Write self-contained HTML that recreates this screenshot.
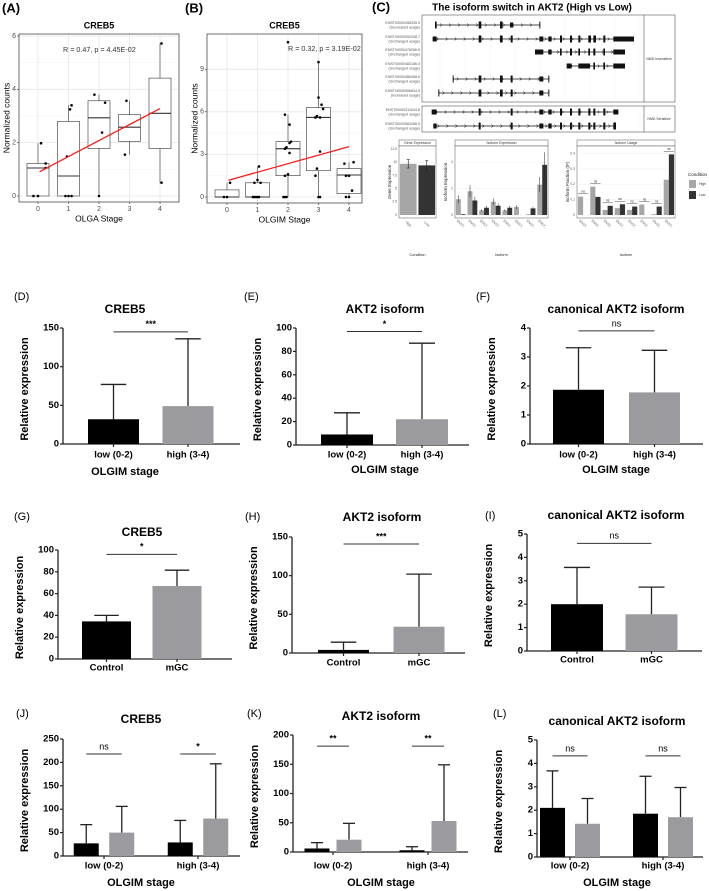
<!DOCTYPE html>
<html><head><meta charset="utf-8"><style>
html,body{margin:0;padding:0;background:#fff;}
svg{display:block;font-family:"Liberation Sans",Arial,sans-serif;}
</style></head><body>
<svg id="fig" width="709" height="891" viewBox="0 0 709 891" xmlns="http://www.w3.org/2000/svg"></svg>
<script>
// ---------- DATA ----------
const aCats=["0","1","2","3","4"];
const aQ1=[0,0,1.78,2.05,1.78];
const aMed=[1.05,0.75,2.93,2.58,3.1];
const aQ3=[1.22,2.8,3.57,3.05,4.42];
const aLo=[0,0,0,1.55,0.5];
const aHi=[1.98,3.4,3.8,3.57,5.72];
const aPtCat=[0,0,0,0,0,1,1,1,1,1,1,2,2,2,2,3,3,4,4];
const aPtJit=[-0.15,0,0.25,0.1,0.25,-0.1,0,0.1,-0.05,0.05,0.1,0,0.1,0.2,-0.15,-0.15,-0.1,0.05,0.05];
const aPtVal=[0,0,1.22,1.98,1.05,0,0,0,1.48,3.25,3.4,0,2.38,3.5,3.8,1.55,3.57,0.5,5.72];
const aFit=[0.88,0.6];
const aTicks=[0,2,4,6];
const bCats=["0","1","2","3","4"];
const bQ1=[0,0,1.5,1.85,0.25];
const bMed=[0,0,3.4,5.6,1.55];
const bQ3=[0.5,1.0,3.9,6.3,2.0];
const bLo=[0,0,0,0,0];
const bHi=[1.0,2.15,5.8,9.5,2.45];
const bPtCat=[0,0,0,1,1,1,1,1,1,1,1,1,2,2,2,2,2,2,2,2,2,2,2,2,2,3,3,3,3,3,3,3,3,3,3,3,3,4,4,4,4,4,4,4];
const bPtJit=[-0.1,0,0.1,-0.15,-0.1,-0.05,0,0.05,0,0.1,-0.1,0.05,-0.15,-0.1,-0.05,-0.1,0,0.05,-0.05,-0.1,0.05,0.1,-0.1,0.05,0.0,0,0.05,-0.1,-0.05,0.05,-0.1,-0.05,0.05,0.15,0.1,0,0,-0.1,0,0.1,-0.1,0,-0.15,0.15];
const bPtVal=[0,0,1.0,0,0,0,0,0,1.2,1.0,1.0,2.15,0,0,0,1.5,1.6,3.1,3.5,3.4,3.8,3.9,5.8,5.1,10.9,0,0,1.5,2.0,3.2,5.6,5.7,5.6,6.2,6.5,7.0,9.5,0,0,0.45,1.5,1.5,2.35,2.45];
const bFit=[1.15,0.6];
const bTicks=[0,3,6,9];
const cGeneCats=["High","Low"];
const cGeneVals=[9.7,9.4];
const cGeneErr=[0.8,0.9];
const cGeneTicks=[0,2.5,5,7.5,10,12.5];
const cIsoHigh=[1.2,1.8,0.35,1.0,0.35,0.6,0.05,2.3];
const cIsoLow=[0.05,1.1,0.55,0.7,0.55,0,0.5,3.8];
const cIsoTicks=[0,2,4];
const cUseHigh=[0.12,0.185,0.033,0.045,0.033,0.068,0.005,0.23];
const cUseLow=[0,0.118,0.06,0.07,0.055,0,0.055,0.395];
const cUseTicks=[0,0.1,0.2,0.3,0.4];
const dCats=["low (0-2)","high (3-4)"]; const dVals=[32,49]; const dErr=[77,136]; const dTicks=[0,50,100,150];
const eCats=["low (0-2)","high (3-4)"]; const eVals=[9,22]; const eErr=[27.5,87]; const eTicks=[0,20,40,60,80,100];
const fCats=["low (0-2)","high (3-4)"]; const fVals=[1.87,1.78]; const fErr=[3.32,3.23]; const fTicks=[0,1,2,3,4];
const gCats=["Control","mGC"]; const gVals=[34.5,67]; const gErr=[40,81.5]; const gTicks=[0,20,40,60,80,100];
const hCats=["Control","mGC"]; const hVals=[4,34]; const hErr=[14,102]; const hTicks=[0,50,100,150];
const iCats=["Control","mGC"]; const iVals=[2.0,1.57]; const iErr=[3.57,2.73]; const iTicks=[0,1,2,3,4,5];
const jCats=["low (0-2)","high (3-4)"]; const jBlack=[27,29]; const jBlackErr=[67,76]; const jGray=[50,80]; const jGrayErr=[106,197]; const jTicks=[0,50,100,150,200,250];
const kCats=["low (0-2)","high (3-4)"]; const kBlack=[6,3]; const kBlackErr=[16,9]; const kGray=[21,53]; const kGrayErr=[49,149]; const kTicks=[0,50,100,150,200];
const lCats=["low (0-2)","high (3-4)"]; const lBlack=[2.1,1.85]; const lBlackErr=[3.68,3.45]; const lGray=[1.42,1.7]; const lGrayErr=[2.5,2.97]; const lTicks=[0,1,2,3,4,5];

// ---------- HELPERS ----------
const NS="http://www.w3.org/2000/svg";
const svg=document.getElementById('fig');
function mk(tag,attrs,parent,text){const e=document.createElementNS(NS,tag);for(const k in attrs)e.setAttribute(k,attrs[k]);if(text!==undefined)e.textContent=text;(parent||svg).appendChild(e);return e;}
function grp(name,parent){const g=mk('g',{},parent);return g;}
function txt(p,x,y,s,size,opts){opts=opts||{};const t=mk('text',{x:x,y:y,'font-size':size,fill:opts.fill||'#000','text-anchor':opts.anchor||'start','font-weight':opts.bold?'bold':'normal','dominant-baseline':'middle'},p,s);if(opts.rot)t.setAttribute('transform','rotate('+opts.rot+' '+x+' '+y+')');return t;}
function line(p,x1,y1,x2,y2,c,w){return mk('line',{x1:x1,y1:y1,x2:x2,y2:y2,stroke:c,'stroke-width':w},p);}

// ---------- BOXPLOT PANELS ----------
function boxPanel(cfg){
  const g=grp(cfg.name);
  const y=v=>cfg.y0-v*cfg.ky; const x=i=>cfg.cx0+i*cfg.step;
  const l=txt(g,cfg.lx,cfg.ly,cfg.letter,13,{bold:true}); 
  const t=txt(g,(cfg.px0+cfg.px1)/2,cfg.py0-8,'CREB5',9,{bold:true,anchor:'middle'}); 
  const ticks=cfg.ticks;
  for(let k=0;k<ticks.length;k++){
    line(g,cfg.px0,y(ticks[k]),cfg.px1,y(ticks[k]),'#e6e6e6',0.8);
    if(k<ticks.length-1){const m=(ticks[k]+ticks[k+1])/2;line(g,cfg.px0,y(m),cfg.px1,y(m),'#f2f2f2',0.5);}
    const tl=txt(g,cfg.px0-3,y(ticks[k]),String(ticks[k]),7,{anchor:'end',fill:'#4d4d4d'});
    
    line(g,cfg.px0-2,y(ticks[k]),cfg.px0,y(ticks[k]),'#333',0.6);
  }
  for(let i=0;i<cfg.cats.length;i++){
    line(g,x(i),cfg.py0,x(i),cfg.py1,'#e6e6e6',0.8);
    const xl=txt(g,x(i),cfg.py1+7,cfg.cats[i],7,{anchor:'middle',fill:'#4d4d4d'});
    
    line(g,x(i),cfg.py1,x(i),cfg.py1+2,'#333',0.6);
  }
  for(let i=0;i<cfg.cats.length;i++){
    const bx=grp('box-'+i,g);
    line(bx,x(i),y(cfg.q3[i]),x(i),y(cfg.hi[i]),'#333',0.6);
    line(bx,x(i),y(cfg.q1[i]),x(i),y(cfg.lo[i]),'#333',0.6);
    mk('rect',{x:x(i)-cfg.bw/2,y:y(cfg.q3[i]),width:cfg.bw,height:Math.max(0.5,y(cfg.q1[i])-y(cfg.q3[i])),fill:'#fff',stroke:'#333','stroke-width':0.6},bx);
    line(bx,x(i)-cfg.bw/2,y(cfg.med[i]),x(i)+cfg.bw/2,y(cfg.med[i]),'#333',1.1);
  }
  for(let k=0;k<cfg.ptV.length;k++){
    const c=mk('circle',{cx:x(cfg.ptC[k]+cfg.ptJ[k]),cy:y(cfg.ptV[k]),r:1.3,fill:'#000'},g);
    
  }
  const fx0=0.05, fx1=4;
  const fl=line(g,x(fx0),y(cfg.fit[0]+cfg.fit[1]*fx0),x(fx1),y(cfg.fit[0]+cfg.fit[1]*fx1),'#ff1a1a',1.3);
  
  mk('rect',{x:cfg.px0,y:cfg.py0,width:cfg.px1-cfg.px0,height:cfg.py1-cfg.py0,fill:'none',stroke:'#333','stroke-width':0.7},g);
  const r=txt(g,cfg.rx,cfg.ry,cfg.rtext,7.2,{fill:'#333'});
  const xt=txt(g,(cfg.px0+cfg.px1)/2,cfg.py1+17,cfg.xtitle,8.5,{anchor:'middle'});
  const yt=txt(g,cfg.ytx,(cfg.py0+cfg.py1)/2,'Normalized counts',8.5,{anchor:'middle',rot:-90});
}
boxPanel({name:'panel-a',letter:'(A)',lx:2,ly:9,px0:19,px1:179,py0:34,py1:202,y0:196,ky:26.67,cx0:38,step:30.5,bw:22,
  cats:aCats,q1:aQ1,med:aMed,q3:aQ3,lo:aLo,hi:aHi,ptC:aPtCat,ptJ:aPtJit,ptV:aPtVal,fit:aFit,ticks:aTicks,
  rx:63,ry:50,rtext:'R = 0.47, p = 4.45E-02',xtitle:'OLGA Stage',ytx:7});
boxPanel({name:'panel-b',letter:'(B)',lx:185,ly:9,px0:207,px1:362,py0:34,py1:203,y0:197,ky:14.2,cx0:227,step:30.5,bw:24,
  cats:bCats,q1:bQ1,med:bMed,q3:bQ3,lo:bLo,hi:bHi,ptC:bPtCat,ptJ:bPtJit,ptV:bPtVal,fit:bFit,ticks:bTicks,
  rx:288,ry:49,rtext:'R = 0.32, p = 3.19E-02',xtitle:'OLGIM Stage',ytx:195});

// ---------- PANEL C ----------
(function(){
  const g=grp('panel-c');
  const l=txt(g,372,8,'(C)',13,{bold:true});
  const t=txt(g,532,8,'The isoform switch in AKT2 (High vs Low)',10,{bold:true,anchor:'middle'});
  const Z=v=>360+v/3;
  mk('rect',{x:422,y:15,width:253,height:87,fill:'#fff',stroke:'#555','stroke-width':0.6},g);
  line(g,644,15,644,102,'#555',0.6);
  mk('rect',{x:422,y:106,width:253,height:26,fill:'#fff',stroke:'#555','stroke-width':0.6},g);
  line(g,644,106,644,132,'#555',0.6);
  for(let gx=440;gx<644;gx+=25){line(g,gx,15,gx,102,'#f0f0f0',0.5);line(g,gx,106,gx,132,'#f0f0f0',0.5);}
  const f1=txt(g,659,59,'NMD Insensitive',3.5,{anchor:'middle',fill:'#333'});
  const f2=txt(g,659,119,'NMD Sensitive',3.5,{anchor:'middle',fill:'#333'});
  const rows=[
    {y:25,id:'ENST00000358335.9',u:'(Decreased usage)',s:228,e:541,ex:[[225,5],[356,8],[420,8],[450,10],[538,3]]},
    {y:39,id:'ENST00000392038.7',u:'(Unchanged usage)',s:218,e:822,ex:[[218,12],[356,8],[420,8],[452,6],[538,12],[565,10],[600,6],[630,6],[655,6],[685,8],[700,8],[730,6],[760,62]]},
    {y:52,id:'ENST00000476266.5',u:'(Unchanged usage)',s:525,e:795,ex:[[525,25],[565,10],[600,5],[630,6],[655,5],[685,5],[700,6],[730,5],[760,35]]},
    {y:66,id:'ENST00000483186.5',u:'(Unchanged usage)',s:620,e:795,ex:[[620,15],[655,35],[700,5],[730,5],[760,35]]},
    {y:79,id:'ENST00000486368.6',u:'(Unchanged usage)',s:278,e:568,ex:[[278,3],[356,8],[420,8],[452,6],[538,12],[565,3]]},
    {y:93,id:'ENST00000596634.5',u:'(Increased usage)',s:235,e:565,ex:[[235,3],[356,8],[420,8],[452,6],[538,12],[565,3]]},
    {y:112,id:'ENST00000311644.8',u:'(Unchanged usage)',s:215,e:775,ex:[[215,15],[356,6],[452,6],[538,12],[565,10],[600,6],[630,6],[655,6],[685,6],[700,6],[730,6],[760,15]]},
    {y:126,id:'ENST00000584288.5',u:'(Unchanged usage)',s:220,e:768,ex:[[220,10],[356,6],[452,6],[538,12],[565,10],[600,6],[630,6],[655,6],[685,6],[700,6],[730,6],[760,8]]}
  ];
  rows.forEach(r=>{
    const rg=grp('transcript-row',g);
    txt(rg,420,r.y-2,r.id,3.6,{anchor:'end',fill:'#555'});
    txt(rg,420,r.y+2.5,r.u,3.6,{anchor:'end',fill:'#555'});
    line(rg,Z(r.s),r.y,Z(r.e),r.y,'#111',0.7);
    for(let cx=Z(r.s)+5;cx<Z(r.e)-3;cx+=9){mk('path',{d:'M'+(cx-1)+' '+(r.y-1.5)+' L'+(cx+1)+' '+r.y+' L'+(cx-1)+' '+(r.y+1.5),fill:'none',stroke:'#111','stroke-width':0.5},rg);}
    r.ex.forEach(e=>{const wide=e[1]>9;mk('rect',{x:Z(e[0]),y:r.y-(wide?2.5:3.5),width:Math.max(1,e[1]/3),height:wide?5:7,fill:'#111'},rg);});
  });
  function frame(mg,x0,x1,title,ticks,max,ytitle,xtitle){
    const py0=146,py1=218;
    mk('rect',{x:x0,y:140,width:x1-x0,height:6,fill:'#fff',stroke:'#555','stroke-width':0.5},mg);
    txt(mg,(x0+x1)/2,143,title,3.5,{anchor:'middle',fill:'#333'});
    mk('rect',{x:x0,y:py0,width:x1-x0,height:py1-py0,fill:'#fff',stroke:'#555','stroke-width':0.5},mg);
    const y=v=>py1-3-v/max*(py1-py0-6);
    ticks.forEach(tk=>{line(mg,x0,y(tk),x1,y(tk),'#ececec',0.5);txt(mg,x0-2,y(tk),String(tk),3.3,{anchor:'end',fill:'#555'});});
    txt(mg,x0-9,(py0+py1)/2,ytitle,4.5,{anchor:'middle',rot:-90,fill:'#222'});
    txt(mg,(x0+x1)/2,255,xtitle,3.8,{anchor:'middle',fill:'#222'});
    return y;
  }
  // gene expression: two single bars
  (function(){
    const mg=grp('gene-expression-chart',g);
    const x0=399,x1=436;
    const y=frame(mg,x0,x1,'Gene Expression',cGeneTicks,12.5,'Gene Expression','Condition');
    const step=(x1-x0)/2, cols=['#a6a6a6','#333'];
    for(let i=0;i<2;i++){
      const cx=x0+step*(i+0.5), bw=step*0.9;
      const b=mk('rect',{x:cx-bw/2,y:y(cGeneVals[i]),width:bw,height:y(0)-y(cGeneVals[i]),fill:cols[i]},mg);
      
      line(mg,cx,y(cGeneVals[i]+cGeneErr[i]),cx,y(cGeneVals[i]-cGeneErr[i]),'#222',0.6);
      line(mg,cx-1.5,y(cGeneVals[i]+cGeneErr[i]),cx+1.5,y(cGeneVals[i]+cGeneErr[i]),'#222',0.6);
      line(mg,cx-1.5,y(cGeneVals[i]-cGeneErr[i]),cx+1.5,y(cGeneVals[i]-cGeneErr[i]),'#222',0.6);
      txt(mg,cx,224,cGeneCats[i],3.3,{anchor:'middle',fill:'#555',rot:45});
    }
  })();
  function mini(name,x0,x1,title,ticks,max,hi,lo,err,ytitle,xtitle,ns){
    const mg=grp(name,g);
    const y=frame(mg,x0,x1,title,ticks,max,ytitle,xtitle);
    const n=hi.length; const step=(x1-x0)/n;
    for(let i=0;i<n;i++){
      const cx=x0+step*(i+0.5); const bw=step*0.42;
      const hb=mk('rect',{x:cx-bw,y:y(hi[i]),width:bw,height:y(0)-y(hi[i]),fill:'#a6a6a6'},mg);
      
      const lb=mk('rect',{x:cx,y:y(lo[i]),width:bw,height:y(0)-y(lo[i]),fill:'#333'},mg);
      
      if(err){line(mg,cx-bw/2,y(hi[i]*(1+err)),cx-bw/2,y(hi[i]*(1-err)),'#222',0.5);line(mg,cx+bw/2,y(lo[i]*(1+err)),cx+bw/2,y(lo[i]*(1-err)),'#222',0.5);}
      if(ns){const top=Math.max(hi[i],lo[i]);line(mg,cx-bw,y(top)-3,cx+bw,y(top)-3,'#222',0.4);txt(mg,cx,y(top)-5,'ns',3.2,{anchor:'middle',fill:'#222'});}
      txt(mg,cx,224,'ENST..',3.3,{anchor:'middle',fill:'#555',rot:45});
    }
  }
  mini('isoform-expression-chart',455,548,'Isoform Expression',cIsoTicks,5,cIsoHigh,cIsoLow,0.25,'Isoform Expression','Isoform',false);
  mini('isoform-usage-chart',577,675,'Isoform Usage',cUseTicks,0.43,cUseHigh,cUseLow,0,'Isoform Fraction (IF)','Isoform',true);
  const lg=grp('legend',g);
  txt(lg,688,175,'Condition',4.5,{fill:'#222'});
  mk('rect',{x:689,y:180,width:7,height:8,fill:'#a6a6a6'},lg);txt(lg,699,184,'High',3.5,{fill:'#333'});
  mk('rect',{x:689,y:191,width:7,height:8,fill:'#333'},lg);txt(lg,699,195,'Low',3.5,{fill:'#333'});
})();

// ---------- BAR PANELS ----------
function barPanel(c){
  const g=grp(c.name);
  const y=v=>c.y0-(v/c.max)*(c.y0-c.yTop);
  const l=txt(g,c.lx,c.ly,c.letter,11);
  const t=txt(g,c.tx,c.ty,c.title,12,{bold:true,anchor:'middle'});
  const ya=line(g,c.ax,c.yTop,c.ax,c.y0,'#222',1.3);
  c.ticks.forEach(tk=>{line(g,c.ax-3,y(tk),c.ax,y(tk),'#222',1.2);const tl=txt(g,c.ax-4,y(tk),String(tk),9.5,{bold:true,anchor:'end'});});
  const xa=line(g,c.ax,c.y0,c.axEnd,c.y0,'#222',1.3);
  const yt=txt(g,c.ax-38,(c.yTop+c.y0)/2+3,'Relative expression',11,{bold:true,anchor:'middle',rot:-90});
  c.series.forEach((s)=>{
    s.vals.forEach((v,i)=>{
      const cx=c.gx(i)+s.off;
      line(g,cx,y(v),cx,y(s.err[i]),'#222',1.3);
      line(g,cx-c.cap,y(s.err[i]),cx+c.cap,y(s.err[i]),'#222',1.3);
      const r=mk('rect',{x:cx-c.bw/2,y:y(v),width:c.bw,height:y(0)-y(v),fill:s.color},g);
      
      
    });
  });
  c.cats.forEach((cat,i)=>{
    line(g,c.gx(i),c.y0,c.gx(i),c.y0+3,'#222',1.2);
    const tl=txt(g,c.gx(i),c.labY,cat,9.5,{bold:true,anchor:'middle'});
  });
  if(c.xtitle){const xt=txt(g,c.tx-(c.xtOff||0),c.xtY,c.xtitle,11,{bold:true,anchor:'middle'});}
  c.sig.forEach(s=>{
    const a=c.series[0].off+c.gx(s.g),b=c.series[1].off+c.gx(s.g);
    const sl=line(g,a,y(s.v),b,y(s.v),'#333',1);
    const st=txt(g,(a+b)/2,y(s.v)-7,s.t,9,{anchor:'middle',bold:s.t!='ns'});
  });
}
function simple(name,letter,lx,ly,title,tx,ty,ax,axEnd,yTop,y0,cats,vals,err,ticks,cL,cR,bw,sigV,sigT,labY,xt,xtY){
  const step=cR-cL;
  barPanel({name:name,letter:letter,lx:lx,ly:ly,title:title,tx:tx,ty:ty,ax:ax,axEnd:axEnd,yTop:yTop,y0:y0,max:ticks[ticks.length-1],ticks:ticks,
    cats:cats,gx:i=>cL+i*step,bw:bw,cap:bw/4,
    series:[{key:'black',off:0,vals:[vals[0]],err:[err[0]],color:'#000'},{key:'gray',off:step,vals:[vals[1]],err:[err[1]],color:'#9b9b9f'}],
    sig:[{g:0,v:sigV,t:sigT}],labY:labY,xtitle:xt,xtY:xtY});
}
simple('panel-d','(D)',14,297,'CREB5',125,310,63,240,328,444,dCats,dVals,dErr,dTicks,113.5,188,51,145,'***',455,'OLGIM stage',472);
simple('panel-e','(E)',244,297,'AKT2 isoform',385,310,296,469,328,445,eCats,eVals,eErr,eTicks,347,422,52,97,'*',455,'OLGIM stage',470);
simple('panel-f','(F)',476,297,'canonical AKT2 isoform',616,310,530,703,328,444,fCats,fVals,fErr,fTicks,578.5,654.5,51,3.9,'ns',455,'OLGIM stage',470);
simple('panel-g','(G)',14,517,'CREB5',142,533,58,232,550,659,gCats,gVals,gErr,gTicks,106.5,177,49,96,'*',668,null,0);
simple('panel-h','(H)',245,517,'AKT2 isoform',382,518,292,465,537,653,hCats,hVals,hErr,hTicks,343.5,419,51,141,'***',663,null,0);
simple('panel-i','(I)',485,516,'canonical AKT2 isoform',616,516,527,702,534,651,iCats,iVals,iErr,iTicks,577,651.5,52,4.6,'ns',660,null,0);
function grouped(name,letter,lx,ly,title,tx,ty,ax,axEnd,yTop,y0,cats,bv,be,gv,ge,ticks,g0,g1,off,sigV,sigT,xtitleX){
  barPanel({name:name,letter:letter,lx:lx,ly:ly,title:title,tx:tx,ty:ty,ax:ax,axEnd:axEnd,yTop:yTop,y0:y0,max:ticks[ticks.length-1],ticks:ticks,
    cats:cats,gx:i=>g0+i*(g1-g0),bw:25,cap:6,
    series:[{key:'black',off:-off,vals:bv,err:be,color:'#000'},{key:'gray',off:off,vals:gv,err:ge,color:'#9b9b9f'}],
    sig:[{g:0,v:sigV,t:sigT[0]},{g:1,v:sigV,t:sigT[1]}],labY:866,xtitle:'OLGIM stage',xtY:883,xtOff:tx-xtitleX});
}
grouped('panel-j','(J)',16,714,'CREB5',141,720,63,240,739,856,jCats,jBlack,jBlackErr,jGray,jGrayErr,jTicks,104,198,17.75,218,['ns','*'],141);
grouped('panel-k','(K)',247,714,'AKT2 isoform',381,717,293,468,735,852,kCats,kBlack,kBlackErr,kGray,kGrayErr,kTicks,333,428,16,181,['**','**'],381);
grouped('panel-l','(L)',493,714,'canonical AKT2 isoform',617,722,537,703,740,857,lCats,lBlack,lBlackErr,lGray,lGrayErr,lTicks,570,663,17.5,4.32,['ns','ns'],617);
</script>
</body></html>
